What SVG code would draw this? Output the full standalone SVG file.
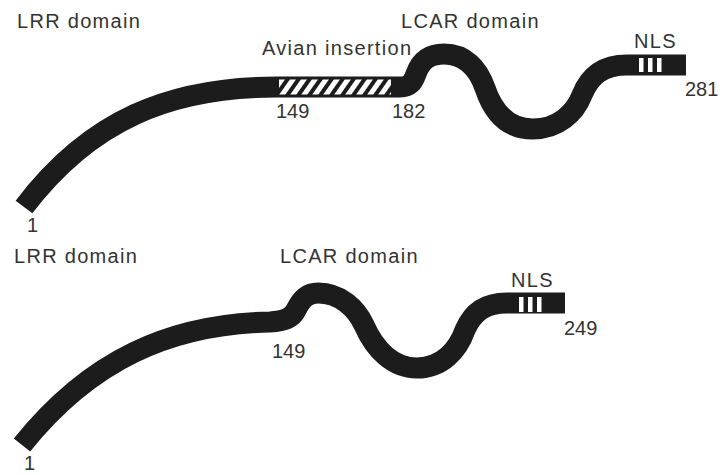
<svg xmlns="http://www.w3.org/2000/svg" width="720" height="475" viewBox="0 0 720 475">
  <style>
    .band { fill: none; stroke: #1c1c1c; stroke-width: 21; stroke-linecap: butt; stroke-linejoin: round; }
    .lbl { font-family: "Liberation Sans", Arial, sans-serif; font-size: 20px; fill: #333; letter-spacing: 1.3px; }
    .num { font-family: "Liberation Sans", Arial, sans-serif; font-size: 20px; fill: #333; }
    .nls { fill: #ffffff; }
  </style>
  <defs>
    <pattern id="hatch" patternUnits="userSpaceOnUse" width="9" height="9" patternTransform="rotate(35)">
      <rect x="0" y="0" width="9" height="9" fill="#ffffff"/>
      <rect x="0" y="0" width="4" height="9" fill="#1c1c1c"/>
    </pattern>
  </defs>
  <rect x="0" y="0" width="720" height="475" fill="#ffffff"/>

  <g id="connectors">
    <path id="protein-top" class="band" d="M24,207 C 90,120 170,87 277,87 L 400,87 C 410,87 413,82 416,74 C 421,60 430,54 444,54 C 465,54 478,68 485,88 C 494,115 510,129 533,129 C 558,129 575,113 582,95 C 590,75 603,65 627,65 L 686,65"/>
    <path id="protein-bottom" class="band" d="M22,445 C 90,360 170,324 270,322 C 285,321 292,318 296,310 C 302,298 308,293 318,293 C 340,293 356,308 364,325 C 375,350 393,368 417,368 C 442,368 458,350 465,330 C 473,312 485,303 507,303 L 565,303"/>
  </g>

  <g id="avian-insertion">
    <rect x="279" y="79.5" width="112" height="15" fill="url(#hatch)"/>
  </g>

  <g id="nls-top">
    <rect class="nls" x="639" y="58" width="4.5" height="14"/>
    <rect class="nls" x="648" y="58" width="4.5" height="14"/>
    <rect class="nls" x="657" y="58" width="4.5" height="14"/>
  </g>
  <g id="nls-bottom">
    <rect class="nls" x="519" y="297" width="4.5" height="15"/>
    <rect class="nls" x="528" y="297" width="4.5" height="15"/>
    <rect class="nls" x="537" y="297" width="4.5" height="15"/>
  </g>

  <g id="labels-top">
    <text class="lbl" x="17" y="28">LRR domain</text>
    <text class="lbl" x="262" y="55">Avian insertion</text>
    <text class="lbl" x="401" y="28">LCAR domain</text>
    <text class="lbl" x="634" y="48">NLS</text>
    <text class="num" x="276" y="118">149</text>
    <text class="num" x="392" y="118">182</text>
    <text class="num" x="685" y="96">281</text>
    <text class="num" x="27" y="232">1</text>
  </g>
  <g id="labels-bottom">
    <text class="lbl" x="14" y="263">LRR domain</text>
    <text class="lbl" x="280" y="263">LCAR domain</text>
    <text class="lbl" x="511" y="287">NLS</text>
    <text class="num" x="272" y="358">149</text>
    <text class="num" x="564" y="335">249</text>
    <text class="num" x="24" y="470">1</text>
  </g>
</svg>
